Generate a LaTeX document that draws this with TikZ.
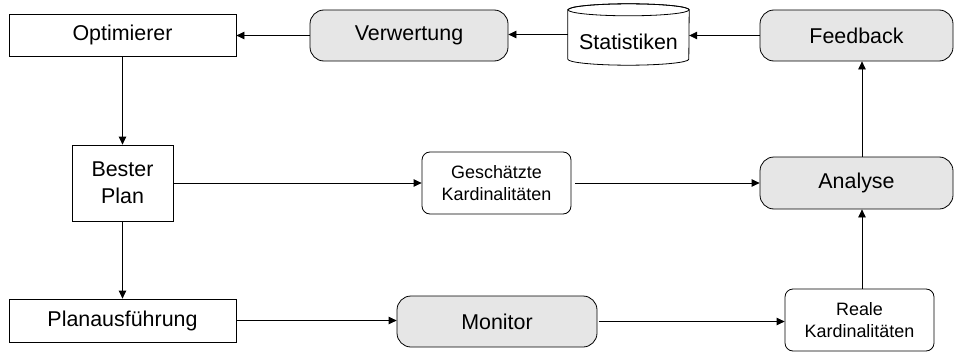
\documentclass[tikz,border=0pt]{standalone}
\usepackage{fontspec}
\setmainfont{Liberation Sans}
\usetikzlibrary{arrows.meta}
\definecolor{boxgray}{HTML}{E6E6E6}
\tikzset{
  base/.style={draw=black, line width=0.8bp, align=center, inner sep=0pt, font=\fontsize{21.5}{27}\selectfont},
  sqbox/.style={base, fill=white},
  graybox/.style={base, fill=boxgray, rounded corners=14bp},
  smallbox/.style={base, fill=white, rounded corners=8bp, font=\fontsize{18}{22}\selectfont},
  arr/.style={line width=0.8bp, -{Triangle[length=8bp,width=7.5bp]}}
}
\begin{document}
\begin{tikzpicture}[x=1bp,y=1bp]
\useasboundingbox (0,0) rectangle (954,352);
% nodes
\node[sqbox, minimum width=227bp, minimum height=42bp] (opt) at (122.5,317) {Optimierer};
\node[graybox, minimum width=198bp, minimum height=51bp] (verw) at (409,316.5) {Verwertung};
\node[minimum width=121bp, minimum height=61bp, inner sep=0pt] (stat) at (628.5,317.5) {};
\draw[line width=0.8bp, fill=white]
  ([yshift=-6bp]stat.north west) -- ([yshift=6bp]stat.south west)
  arc[start angle=180, end angle=360, x radius=60.5bp, y radius=6bp]
  -- ([yshift=-6bp]stat.north east)
  arc[start angle=0, end angle=180, x radius=60.5bp, y radius=6bp] -- cycle;
\draw[line width=0.8bp] ([yshift=-6bp]stat.north) ellipse[x radius=60.5bp, y radius=6bp];
\node[font=\fontsize{21.5}{27}\selectfont, inner sep=0pt] (statlabel) at ([yshift=-7bp]stat.center) {Statistiken};
\node[graybox, minimum width=193bp, minimum height=51bp] (fb) at (856.5,316.5) {Feedback};
\node[sqbox, minimum width=101bp, minimum height=76bp] (best) at (122.5,169) {Bester\\Plan};
\node[smallbox, minimum width=149bp, minimum height=62bp] (gesch) at (496.5,169) {Geschätzte\\Kardinalitäten};
\node[graybox, minimum width=193bp, minimum height=52bp] (ana) at (856.5,169) {Analyse};
\node[sqbox, minimum width=227bp, minimum height=43bp] (plan) at (122.5,31.5) {Planausführung};
\node[graybox, minimum width=200bp, minimum height=51bp] (mon) at (497,30.5) {Monitor};
\node[smallbox, minimum width=149bp, minimum height=62bp] (real) at (859.5,32) {Reale\\Kardinalitäten};
% connectors
\draw[arr] (verw.west) -- (opt.east |- verw.west);
\draw[arr] (stat.west) -- (verw.east |- stat.west);
\draw[arr] (fb.west) -- (stat.east |- fb.west);
\draw[arr] (opt.south) -- (best.north);
\draw[arr] (best.south) -- (plan.north);
\draw[arr] (best.east) -- (gesch.west);
\draw[arr] ([xshift=4bp]gesch.east) -- (ana.west |- gesch.east);
\draw[arr] (plan.east) -- (mon.west |- plan.east);
\draw[arr] ([xshift=2bp]mon.east) -- (real.west |- mon.east);
\draw[arr] ([xshift=2.5bp]real.north) -- ([xshift=2.5bp]real.north |- ana.south);
\draw[arr] ([xshift=5.5bp]ana.north) -- ([xshift=5.5bp]ana.north |- fb.south);
\end{tikzpicture}
\end{document}
